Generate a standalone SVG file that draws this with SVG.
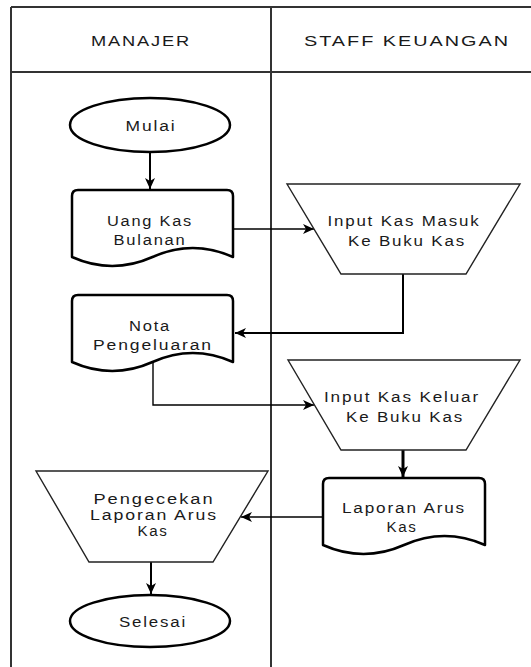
<svg xmlns="http://www.w3.org/2000/svg" width="531" height="667" viewBox="0 0 531 667">
  <defs>
    <marker id="arrow" markerUnits="userSpaceOnUse" markerWidth="12" markerHeight="10" refX="11" refY="5" orient="auto">
      <path d="M0,0 L11,5 L0,10 L3,5 Z" fill="#000"/>
    </marker>
    <style>
      text { font-family: "Liberation Sans", Arial, sans-serif; font-size: 14px; letter-spacing: 1.5px; fill: #1a1a1a; text-anchor: middle; }
      .head { font-size: 15px; }
      .lane { stroke: #333; stroke-width: 2; fill: none; }
      .term { fill: #fff; stroke: #000; stroke-width: 2.5; }
      .doc { fill: #fff; stroke: #000; stroke-width: 2.5; stroke-linejoin: round; }
      .manual { fill: #fff; stroke: #222; stroke-width: 1.4; }
      .edge { fill: none; stroke: #000; stroke-width: 1.4; }
      .edge.bold { stroke-width: 2; }
      .edge.heavy { stroke-width: 3; }
    </style>
  </defs>

  <rect width="531" height="667" fill="#fff"/>

  <!-- swimlane frame -->
  <g id="lanes">
    <line class="lane" x1="11" y1="7" x2="531" y2="7"/>
    <line class="lane" x1="11" y1="72" x2="531" y2="72"/>
    <line class="lane" x1="11" y1="7" x2="11" y2="667"/>
    <line class="lane" x1="271" y1="7" x2="271" y2="667"/>
    <text class="head" x="141" y="46" textLength="100" lengthAdjust="spacingAndGlyphs">MANAJER</text>
    <text class="head" x="407" y="46" textLength="206" lengthAdjust="spacingAndGlyphs">STAFF KEUANGAN</text>
  </g>

  <!-- connectors -->
  <g id="connectors">
    <path class="edge bold" d="M150,152 V189" marker-end="url(#arrow)"/>
    <path class="edge" d="M233,229 H314" marker-end="url(#arrow)"/>
    <path class="edge bold" d="M403,274 V333 H235" stroke="#333" marker-end="url(#arrow)"/>
    <path class="edge" d="M153,362 V405 H314" marker-end="url(#arrow)"/>
    <path class="edge heavy" d="M403,450 V477" marker-end="url(#arrow)"/>
    <path class="edge" d="M323,517 H241" marker-end="url(#arrow)"/>
    <path class="edge bold" d="M151,562 V594" marker-end="url(#arrow)"/>
  </g>

  <g id="mulai">
    <ellipse class="term" cx="150" cy="125" rx="80" ry="27"/>
    <text x="151" y="131" textLength="51" lengthAdjust="spacingAndGlyphs">Mulai</text>
  </g>

  <g id="uang-kas-bulanan">
    <path class="doc" d="M72,257 V196 Q72,190 78,190 H227 Q233,190 233,196 V257 Q192.75,239 152.5,257 Q112.25,275 72,257 Z"/>
    <text x="150" y="226" textLength="86" lengthAdjust="spacingAndGlyphs">Uang Kas</text>
    <text x="150" y="245" textLength="73" lengthAdjust="spacingAndGlyphs">Bulanan</text>
  </g>

  <g id="input-kas-masuk">
    <polygon class="manual" points="287,184 520,184 466,274 341,274"/>
    <text x="404" y="226" textLength="153" lengthAdjust="spacingAndGlyphs">Input Kas Masuk</text>
    <text x="407" y="246" textLength="118" lengthAdjust="spacingAndGlyphs">Ke Buku Kas</text>
  </g>

  <g id="nota-pengeluaran">
    <path class="doc" d="M72,362 V301 Q72,295 78,295 H227 Q233,295 233,301 V362 Q192.75,344 152.5,362 Q112.25,380 72,362 Z"/>
    <text x="150" y="331" textLength="42" lengthAdjust="spacingAndGlyphs">Nota</text>
    <text x="153" y="350" textLength="120" lengthAdjust="spacingAndGlyphs">Pengeluaran</text>
  </g>

  <g id="input-kas-keluar">
    <polygon class="manual" points="288,360 520,360 466,450 341,450"/>
    <text x="402" y="402" textLength="156" lengthAdjust="spacingAndGlyphs">Input Kas Keluar</text>
    <text x="405" y="422" textLength="118" lengthAdjust="spacingAndGlyphs">Ke Buku Kas</text>
  </g>

  <g id="laporan-arus-kas">
    <path class="doc" d="M323,545 V484 Q323,478 329,478 H479 Q485,478 485,484 V545 Q444.5,527 404,545 Q363.5,563 323,545 Z"/>
    <text x="404" y="513" textLength="124" lengthAdjust="spacingAndGlyphs">Laporan Arus</text>
    <text x="402" y="532" textLength="31" lengthAdjust="spacingAndGlyphs">Kas</text>
  </g>

  <g id="pengecekan-laporan">
    <polygon class="manual" points="36,471 268,471 213,562 89,562"/>
    <text x="154" y="504" textLength="121" lengthAdjust="spacingAndGlyphs">Pengecekan</text>
    <text x="154" y="520" textLength="128" lengthAdjust="spacingAndGlyphs">Laporan Arus</text>
    <text x="153" y="536" textLength="31" lengthAdjust="spacingAndGlyphs">Kas</text>
  </g>

  <g id="selesai">
    <ellipse class="term" cx="150" cy="621" rx="80" ry="26"/>
    <text x="153" y="627" textLength="68" lengthAdjust="spacingAndGlyphs">Selesai</text>
  </g>
</svg>
